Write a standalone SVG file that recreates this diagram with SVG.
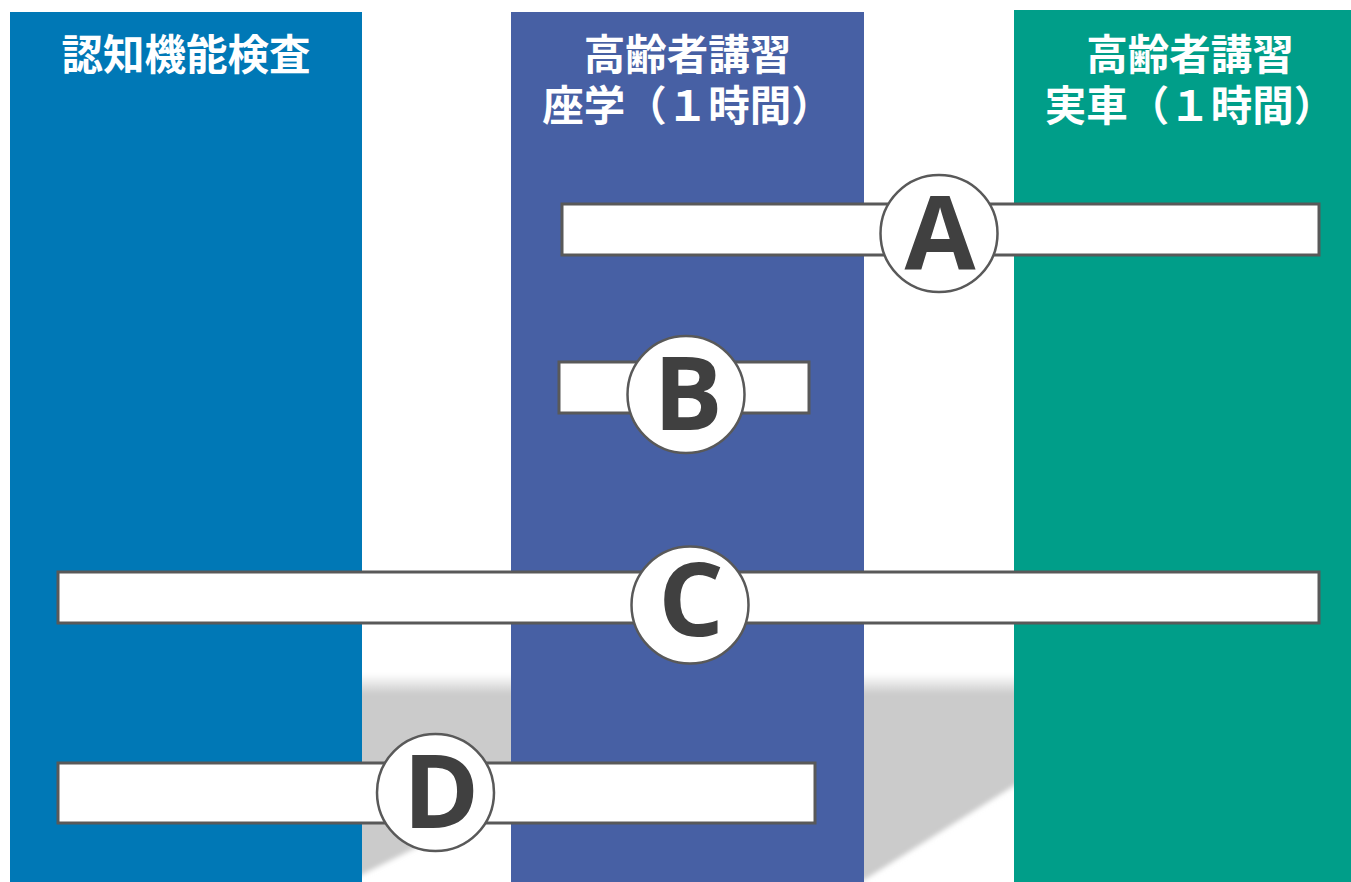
<svg xmlns="http://www.w3.org/2000/svg" width="1351" height="882" viewBox="0 0 1351 882">
<style>
.title{font-family:"Noto Sans CJK JP","Noto Sans",sans-serif;font-weight:700;font-size:41.5px;fill:#fff;text-anchor:middle}
.bar{fill:#fff;stroke:#595959;stroke-width:3}
.disc{fill:#fff;stroke:#595959;stroke-width:2.5}
.lbl{font-family:"Open Sans","Liberation Sans",sans-serif;font-weight:700;font-size:103px;fill:#404040;text-anchor:middle}
</style>
<defs>
<linearGradient id="shade" gradientUnits="userSpaceOnUse" x1="0" y1="674" x2="0" y2="694">
<stop offset="0" stop-color="#ffffff"/>
<stop offset="1" stop-color="#cbcbcb"/>
</linearGradient>
<filter id="soft" x="-10%" y="-10%" width="120%" height="120%">
<feGaussianBlur stdDeviation="2.5"/>
</filter>
</defs>
<rect width="1351" height="882" fill="#fff"/>
<g id="shadow" fill="url(#shade)" filter="url(#soft)">
<polygon points="355,674 520,674 520,796 355,878 355,882"/>
<polygon points="855,674 1020,674 1020,782 864,880 855,882"/>
</g>
<g id="col-ninchi">
<rect x="10" y="12" width="352" height="870" fill="#0078b6"/>
<text class="title" x="186" y="70">認知機能検査</text>
</g>
<g id="col-zagaku">
<rect x="511" y="12" width="353" height="870" fill="#4760a4"/>
<text class="title" x="687.5" y="70">高齢者講習</text>
<text class="title" x="687.5" y="121">座学（１時間）</text>
</g>
<g id="col-jissha">
<rect x="1014" y="10" width="337" height="872" fill="#009e89"/>
<text class="title" x="1190" y="70">高齢者講習</text>
<text class="title" x="1190" y="121">実車（１時間）</text>
</g>
<g id="node-A">
<rect class="bar" x="562" y="204" width="757" height="51"/>
<circle class="disc" cx="939" cy="233.5" r="58.5"/>
<text class="lbl" x="940" y="269">A</text>
</g>
<g id="node-B">
<rect class="bar" x="559" y="362" width="250" height="51"/>
<circle class="disc" cx="686" cy="394.5" r="58.5"/>
<text class="lbl" x="688" y="430">B</text>
</g>
<g id="node-C">
<rect class="bar" x="58" y="572" width="1261" height="51"/>
<circle class="disc" cx="690" cy="605" r="58.5"/>
<text class="lbl" x="691" y="636">C</text>
</g>
<g id="node-D">
<rect class="bar" x="58" y="763" width="757" height="60"/>
<circle class="disc" cx="435.5" cy="792.5" r="58.5"/>
<text class="lbl" x="441" y="828">D</text>
</g>
</svg>
